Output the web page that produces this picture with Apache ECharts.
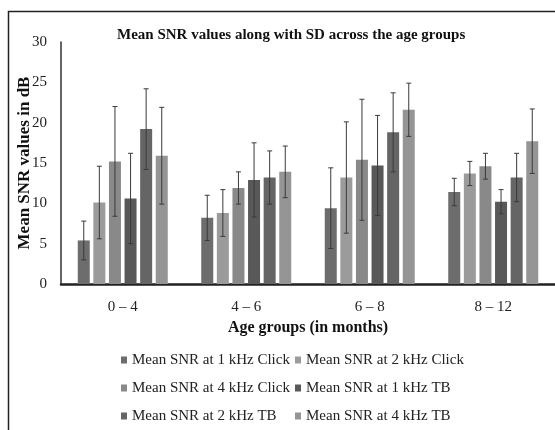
<!DOCTYPE html>
<html>
<head>
<meta charset="utf-8">
<script src="https://cdn.jsdelivr.net/npm/echarts@6/dist/echarts.min.js"></script>
<style>
  html, body { margin: 0; padding: 0; background: #fff; }
  #chart { width: 555px; height: 430px; }
</style>
</head>
<body>
<div id="chart"></div>
<script>
// Age groups (months)
const ageGroups = ['0 \u2013 4', '4 \u2013 6', '6 \u2013 8', '8 \u2013 12'];

// Series names
const seriesNames = [
  'Mean SNR at 1 kHz Click',
  'Mean SNR at 2 kHz Click',
  'Mean SNR at 4 kHz Click',
  'Mean SNR at 1 kHz TB',
  'Mean SNR at 2 kHz TB',
  'Mean SNR at 4 kHz TB'
];

// Mean SNR (dB) per age group
const meanClick1k = [5.4, 8.2, 9.4, 11.4];
const meanClick2k = [10.1, 8.8, 13.2, 13.7];
const meanClick4k = [15.2, 11.9, 15.4, 14.6];
const meanTb1k = [10.6, 12.9, 14.7, 10.2];
const meanTb2k = [19.2, 13.2, 18.8, 13.2];
const meanTb4k = [15.9, 13.9, 21.6, 17.7];

// Standard deviations (dB)
const sdClick1k = [2.4, 2.8, 5.0, 1.7];
const sdClick2k = [4.5, 2.9, 6.9, 1.5];
const sdClick4k = [6.8, 2.0, 7.5, 1.6];
const sdTb1k = [5.6, 4.6, 6.2, 1.5];
const sdTb2k = [5.0, 3.3, 4.9, 3.0];
const sdTb4k = [6.0, 3.2, 3.3, 4.0];

// Y axis ticks
const yTicks = [0, 5, 10, 15, 20, 25, 30];

const means = [meanClick1k, meanClick2k, meanClick4k, meanTb1k, meanTb2k, meanTb4k];
const sds = [sdClick1k, sdClick2k, sdClick4k, sdTb1k, sdTb2k, sdTb4k];
const colors = ['#6d6d6d', '#9b9b9b', '#898989', '#595959', '#656565', '#959595'];

const FONT = '"Liberation Serif", "Times New Roman", serif';
const BAR_W = 12;
const BAR_GAP = 0.3;
const N = seriesNames.length;

function barOffset(i) {
  const total = N * BAR_W + (N - 1) * BAR_W * BAR_GAP;
  return -total / 2 + BAR_W / 2 + i * BAR_W * (1 + BAR_GAP);
}

const series = [];
means.forEach((m, i) => {
  series.push({
    name: seriesNames[i],
    type: 'bar',
    data: m,
    barWidth: BAR_W,
    barGap: (BAR_GAP * 100) + '%',
    itemStyle: { color: colors[i] },
    z: 2
  });
});
means.forEach((m, i) => {
  series.push({
    type: 'custom',
    name: 'sd' + i,
    data: m.map((v, k) => [k, v - sds[i][k], v + sds[i][k]]),
    encode: { x: 0, y: [1, 2] },
    z: 5,
    silent: true,
    renderItem: function (params, api) {
      const k = api.value(0);
      const lo = api.coord([k, api.value(1)]);
      const hi = api.coord([k, api.value(2)]);
      const x = lo[0] + barOffset(i);
      const cap = 2.5;
      const style = { stroke: '#3a3a3a', lineWidth: 1, fill: null };
      return {
        type: 'group',
        children: [
          { type: 'line', shape: { x1: x, y1: lo[1], x2: x, y2: hi[1] }, style: style },
          { type: 'line', shape: { x1: x - cap, y1: hi[1], x2: x + cap, y2: hi[1] }, style: style },
          { type: 'line', shape: { x1: x - cap, y1: lo[1], x2: x + cap, y2: lo[1] }, style: style }
        ]
      };
    }
  });
});

const legendText = { fontFamily: FONT, fontSize: 15, color: '#222', lineHeight: 18 };
const legendCommon = {
  orient: 'vertical',
  top: 351,
  height: 100,
  padding: 0,
  icon: 'rect',
  itemWidth: 6,
  itemHeight: 7,
  itemGap: 10,
  selectedMode: false,
  textStyle: legendText
};

const chart = echarts.init(document.getElementById('chart'), null, { renderer: 'canvas' });
chart.setOption({
  animation: false,
  backgroundColor: '#fff',
  title: {
    text: 'Mean SNR values along with SD across the age groups',
    left: 112,
    top: 23,
    textStyle: { fontFamily: FONT, fontSize: 15, fontWeight: 'bold', color: '#111' }
  },
  graphic: [{
    type: 'rect',
    shape: { x: 8.5, y: 11.5, width: 600, height: 460 },
    style: { fill: null, stroke: '#222', lineWidth: 1.5 },
    silent: true
  }],
  legend: [
    Object.assign({}, legendCommon, { left: 121, data: [seriesNames[0], seriesNames[2], seriesNames[4]] }),
    Object.assign({}, legendCommon, { left: 295, data: [seriesNames[1], seriesNames[3], seriesNames[5]] })
  ],
  grid: { left: 61, right: 0, top: 42, bottom: 146, containLabel: false },
  xAxis: {
    type: 'category',
    data: ageGroups,
    name: 'Age groups (in months)',
    nameLocation: 'middle',
    nameGap: 35,
    nameTextStyle: { fontFamily: FONT, fontSize: 16, fontWeight: 'bold', color: '#111' },
    axisLine: { lineStyle: { color: '#222', width: 2.5 } },
    axisTick: { show: false },
    axisLabel: { fontFamily: FONT, fontSize: 15, color: '#222', margin: 16 },
    barCategoryGap: '27%'
  },
  yAxis: {
    type: 'value',
    min: yTicks[0],
    max: yTicks[yTicks.length - 1],
    interval: yTicks[1] - yTicks[0],
    name: 'Mean SNR values in dB',
    nameLocation: 'middle',
    nameGap: 28,
    nameMoveOverlap: false,
    nameTextStyle: { fontFamily: FONT, fontSize: 17, fontWeight: 'bold', color: '#111' },
    axisLine: { show: true, lineStyle: { color: '#333', width: 1.5 } },
    axisTick: { show: false },
    splitLine: { show: false },
    axisLabel: { fontFamily: FONT, fontSize: 15, color: '#222', margin: 14 }
  },
  series: series
});
</script>
</body>
</html>
